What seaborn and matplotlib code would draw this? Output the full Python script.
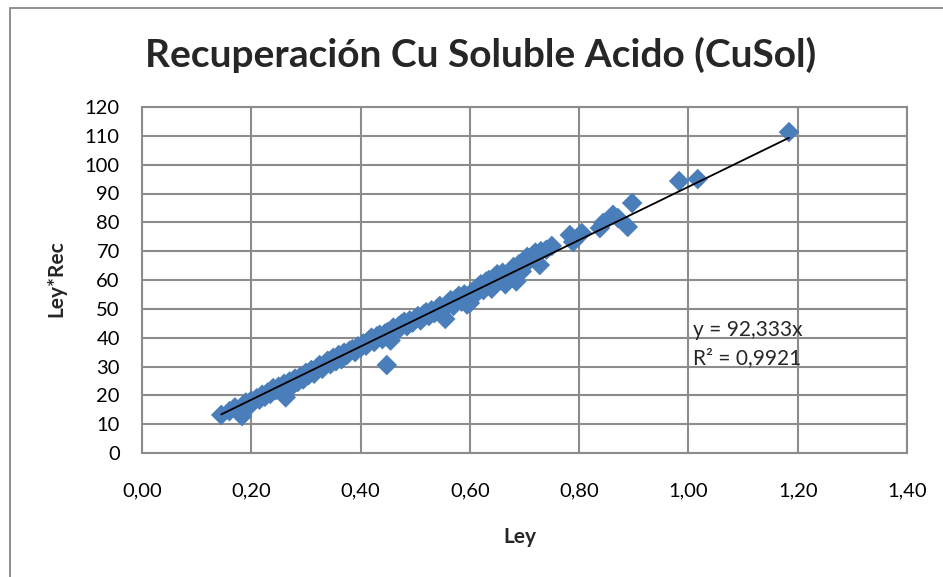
import numpy as np
import pandas as pd
import matplotlib
matplotlib.use("Agg")
import matplotlib.pyplot as plt
import matplotlib.patches as mpatches
import seaborn as sns

sns.set_theme(style="white")
plt.rcParams['font.family'] = ['Lato', 'DejaVu Sans']

title = "Recuperación Cu Soluble Acido (CuSol)"
x_label = "Ley"
y_label = "Ley*Rec"
eq_text = "y = 92,333x"
r2_text = "R² = 0,9921"
slope = 92.333

ley = [0.145, 0.16, 0.17, 0.175, 0.183, 0.185, 0.19, 0.195, 0.20, 0.21, 0.215, 0.22, 0.225,
       0.23, 0.235, 0.24, 0.245, 0.25, 0.255, 0.26, 0.263, 0.265, 0.27, 0.275, 0.28, 0.285,
       0.29, 0.295, 0.30,
       0.305, 0.31, 0.315, 0.32, 0.325, 0.33, 0.335, 0.34, 0.345, 0.35, 0.355, 0.36, 0.365,
       0.37, 0.375, 0.38, 0.385, 0.39, 0.395, 0.40, 0.405, 0.41, 0.415, 0.42, 0.425, 0.43,
       0.435, 0.44, 0.445, 0.448, 0.45, 0.455,
       0.46, 0.465, 0.47, 0.475, 0.48, 0.485, 0.49, 0.495, 0.50, 0.505, 0.51, 0.515, 0.52,
       0.525, 0.53, 0.535, 0.54, 0.545, 0.55, 0.555, 0.56, 0.565, 0.57, 0.575, 0.58, 0.585,
       0.59, 0.595, 0.60, 0.60,
       0.605, 0.61, 0.615, 0.62, 0.625, 0.63, 0.635, 0.64, 0.645, 0.65, 0.655, 0.66, 0.665,
       0.67, 0.675, 0.68, 0.685, 0.69, 0.695, 0.70, 0.705, 0.71, 0.715, 0.72, 0.728, 0.73,
       0.74, 0.75,
       0.783, 0.789, 0.805, 0.838, 0.844, 0.862, 0.871, 0.889, 0.897, 0.983, 1.017, 1.184]

ley_rec = [13.2, 14.5, 15.8, 14.8, 12.8, 16.5, 17.5, 16.0, 18.2, 19.0, 18.5, 20.2, 19.5,
           21.0, 20.5, 22.5, 21.8, 23.0, 22.0, 24.0, 19.3, 21.5, 24.8, 23.5, 25.8, 24.6,
           26.5, 25.5, 27.8,
           27.0, 28.8, 27.5, 29.5, 30.5, 29.2, 31.0, 32.0, 30.8, 33.0, 31.8, 34.0, 32.5,
           34.8, 34.0, 35.5, 36.0, 35.0, 37.0, 36.5, 38.0, 37.2, 39.0, 40.0, 38.5, 40.5,
           41.0, 39.5, 41.5, 30.5, 42.0, 39.0,
           43.5, 42.0, 44.0, 44.8, 45.5, 44.0, 46.0, 45.2, 46.5, 47.5, 46.0, 48.0, 48.8,
           47.5, 49.5, 48.5, 50.0, 51.0, 49.5, 46.5, 52.0, 53.0, 51.0, 53.5, 54.5, 52.5,
           55.0, 51.5, 54.0, 52.0,
           56.0, 55.0, 57.5, 58.5, 56.5, 59.5, 60.0, 57.0, 61.0, 62.0, 60.0, 62.5, 58.5,
           61.0, 63.0, 64.5, 59.5, 65.5, 63.0, 66.5, 68.0, 67.0, 68.5, 69.5, 65.2, 70.0,
           70.5, 71.8,
           75.6, 73.2, 76.3, 78.0, 79.8, 82.6, 81.5, 78.4, 86.7, 94.3, 95.0, 111.3]

x_ticks = [0.0, 0.2, 0.4, 0.6, 0.8, 1.0, 1.2, 1.4]
x_tick_labels = ["0,00", "0,20", "0,40", "0,60", "0,80", "1,00", "1,20", "1,40"]
y_ticks = [0, 10, 20, 30, 40, 50, 60, 70, 80, 90, 100, 110, 120]

df = pd.DataFrame({"Ley": ley, "LeyRec": ley_rec})

W, H = 943, 577
fig = plt.figure(figsize=(W / 100, H / 100), dpi=100)
fig.patch.set_facecolor("white")

# outer chart border (left/top visible)
fig.add_artist(mpatches.Rectangle((9.5 / W, -0.1), 1.2, (H - 7.5) / H + 0.1,
                                  transform=fig.transFigure, fill=False,
                                  edgecolor="#868686", linewidth=1.3))

ax = fig.add_axes([142 / W, (H - 453) / H, (907 - 142) / W, (453 - 107) / H])
ax.set_facecolor("white")

grid_c = "#8c8c8c"
ax.set_xlim(0, 1.4)
ax.set_ylim(0, 120)
ax.set_xticks(x_ticks)
ax.set_xticklabels(x_tick_labels)
ax.set_yticks(y_ticks)
ax.grid(True, color=grid_c, linewidth=1.5)
ax.set_axisbelow(True)
for s in ax.spines.values():
    s.set_color(grid_c)
    s.set_linewidth(1.5)

sns.scatterplot(data=df, x="Ley", y="LeyRec", marker="D", s=110, color="#4a7ebb",
                edgecolor="none", linewidth=0, ax=ax, zorder=3, legend=False)

xl = np.array([min(ley), max(ley)])
ax.plot(xl, slope * xl, color="black", linewidth=1.3, zorder=4)

ax.tick_params(axis="both", length=0, labelsize=14.5, colors="black")
ax.tick_params(axis="x", pad=21)
ax.tick_params(axis="y", pad=16)
ax.set_xlabel("")
ax.set_ylabel("")

fig.text(520 / W, 1 - 537 / H, x_label, fontsize=15, fontweight="bold",
         ha="center", va="center")
fig.text(56 / W, 1 - 279 / H, y_label, fontsize=15, fontweight="bold",
         ha="center", va="center", rotation=90)

ax.text(1.008, 42.7, eq_text, fontsize=15, ha="left", va="center", zorder=5)
ax.text(1.008, 33.0, r2_text, fontsize=15, ha="left", va="center", zorder=5)

fig.text(481 / W, 1 - 67 / H, title, fontsize=28, fontweight="bold",
         ha="center", va="baseline")

fig.savefig("out.png", dpi=100)
